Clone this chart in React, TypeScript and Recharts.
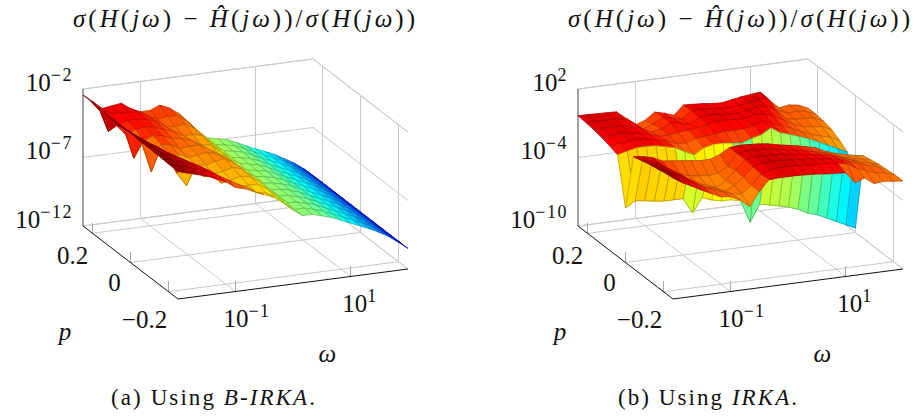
import React from "react";
import { ScatterChart, Scatter, XAxis, YAxis } from "recharts";

const FONT = '"Liberation Serif", serif';

// log10(omega) samples and p samples of the mesh
const omegaLog = [-2, -1.833, -1.667, -1.5, -1.333, -1.167, -1, -0.833, -0.667, -0.5, -0.333, -0.167, 0, 0.167, 0.333, 0.5, 0.667, 0.833, 1, 1.167, 1.333, 1.5, 1.667, 1.833, 2];
const pValues = [0.25, 0.208, 0.167, 0.125, 0.083, 0.042, 0, -0.042, -0.083, -0.125, -0.167, -0.208, -0.25];

// log10 of the relative error, one row per p value (a) B-IRKA
const errorA = [
  [-2.44, -3.0, -3.6, -3.5, -3.4, -3.9, -4.2, -4.2, -3.9, -4.2, -4.7, -5.4, -6.2, -6.75, -6.9, -7.05, -7.35, -7.7, -8.0, -8.3, -8.6, -9.0, -9.4, -9.9, -10.5],
  [-2.45, -3.3, -3.5, -3.6, -3.6, -3.7, -4.1, -4.4, -4.3, -4.3, -4.8, -5.5, -6.25, -6.8, -6.92, -7.07, -7.36, -7.7, -8.0, -8.3, -8.6, -9.0, -9.4, -9.9, -10.5],
  [-2.48, -4.3, -3.9, -3.7, -3.7, -3.8, -4.0, -4.5, -4.6, -4.5, -4.9, -5.6, -6.3, -6.8, -6.94, -7.09, -7.38, -7.72, -8.0, -8.3, -8.6, -9.0, -9.4, -9.9, -10.5],
  [-2.5, -3.4, -4.2, -3.9, -3.8, -3.9, -4.2, -4.4, -4.8, -4.8, -5.0, -5.7, -6.35, -6.85, -6.96, -7.11, -7.39, -7.73, -8.02, -8.32, -8.62, -9.0, -9.4, -9.9, -10.5],
  [-2.5, -3.2, -5.45, -4.3, -4.0, -4.1, -4.4, -4.5, -4.7, -5.1, -5.2, -5.8, -6.4, -6.85, -6.98, -7.13, -7.4, -7.74, -8.03, -8.33, -8.63, -9.01, -9.41, -9.91, -10.5],
  [-2.55, -3.1, -3.9, -6.1, -4.2, -4.3, -4.7, -4.6, -4.6, -5.0, -5.4, -5.8, -6.45, -6.9, -7.0, -7.15, -7.41, -7.75, -8.04, -8.34, -8.64, -9.01, -9.41, -9.91, -10.5],
  [-2.55, -3.0, -3.5, -4.2, -4.8, -4.6, -4.9, -4.8, -4.7, -4.9, -5.3, -5.9, -6.5, -6.9, -7.02, -7.18, -7.42, -7.76, -8.05, -8.35, -8.65, -9.02, -9.42, -9.92, -10.5],
  [-2.6, -2.9, -3.3, -3.9, -5.4, -6.4, -5.0, -5.1, -4.9, -4.8, -5.2, -5.9, -6.5, -6.95, -7.03, -7.2, -7.43, -7.76, -8.06, -8.36, -8.66, -9.03, -9.43, -9.93, -10.5],
  [-2.6, -2.9, -3.2, -3.6, -4.2, -4.8, -5.4, -5.3, -5.2, -5.0, -5.2, -5.8, -6.55, -7.0, -7.05, -7.22, -7.45, -7.77, -8.07, -8.37, -8.67, -9.03, -9.43, -9.93, -10.5],
  [-2.62, -2.85, -3.1, -3.4, -3.8, -4.3, -4.9, -5.5, -5.4, -5.2, -5.3, -5.8, -6.5, -7.0, -7.06, -7.24, -7.46, -7.78, -8.08, -8.38, -8.68, -9.04, -9.44, -9.94, -10.5],
  [-2.65, -2.85, -3.05, -3.3, -3.6, -4.0, -4.5, -4.9, -5.5, -5.4, -5.4, -5.9, -6.5, -7.05, -7.08, -7.26, -7.47, -7.79, -8.09, -8.39, -8.69, -9.04, -9.44, -9.94, -10.5],
  [-2.68, -2.85, -3.05, -3.3, -3.55, -3.9, -4.3, -4.7, -5.0, -5.5, -5.6, -6.0, -6.6, -7.1, -7.09, -7.28, -7.49, -7.8, -8.1, -8.4, -8.7, -9.05, -9.45, -9.95, -10.5],
  [-2.7, -2.9, -3.1, -3.3, -3.6, -3.9, -4.4, -4.6, -4.9, -5.2, -5.5, -6.0, -6.6, -7.1, -7.1, -7.3, -7.5, -7.8, -8.1, -8.4, -8.7, -9.05, -9.45, -9.95, -10.5],
];

// (b) IRKA, deep valley along p = 0
const errorB = [
  [-0.34, -0.35, -0.38, -0.4, -0.44, -1.1, -1.8, -1.5, -0.9, -1.1, -1.4, -0.6, -0.65, -0.7, -0.8, -0.85, -0.7, -0.55, -0.45, -0.35, -1.2, -1.95, -1.8, -1.93, -2.3],
  [-0.4, -0.4, -0.42, -0.45, -0.55, -1.0, -1.6, -1.3, -0.8, -1.0, -1.2, -0.6, -0.55, -0.6, -0.7, -0.75, -0.65, -0.5, -0.35, -0.4, -1.5, -1.9, -1.8, -1.95, -2.3],
  [-0.5, -0.5, -0.45, -0.5, -0.7, -0.95, -1.4, -1.2, -0.8, -0.9, -1.1, -0.65, -0.5, -0.55, -0.65, -0.7, -0.55, -0.4, -0.4, -0.9, -1.7, -1.9, -1.9, -2.0, -2.4],
  [-0.65, -0.6, -0.5, -0.55, -0.7, -0.9, -1.2, -1.2, -1.1, -1.0, -0.9, -0.7, -0.55, -0.55, -0.6, -0.6, -0.4, -0.45, -0.8, -1.2, -1.7, -2.0, -2.1, -2.2, -2.6],
  [-0.85, -0.75, -0.6, -0.6, -0.7, -0.9, -1.1, -1.4, -1.5, -1.2, -1.1, -1.0, -0.9, -0.95, -0.9, -0.7, -0.45, -0.8, -1.1, -1.4, -1.8, -2.15, -2.4, -2.6, -3.0],
  [-1.1, -0.9, -0.7, -0.7, -0.75, -0.95, -1.15, -1.6, -2.0, -1.5, -1.3, -1.3, -1.4, -1.5, -1.2, -1.0, -0.5, -1.04, -1.3, -1.6, -1.9, -2.3, -2.7, -3.1, -3.5],
  [-5.22, -4.7, -4.8, -4.95, -5.05, -5.05, -5.06, -6.42, -5.2, -5.5, -5.7, -5.7, -5.9, -7.9, -6.4, -6.6, -6.8, -7.0, -7.3, -7.75, -8.0, -8.4, -8.8, -9.2, -9.6],
  [-0.2, -0.3, -0.5, -0.9, -1.0, -1.1, -1.2, -1.3, -1.3, -1.0, -0.5, -0.4, -0.45, -0.5, -0.6, -0.8, -0.95, -1.1, -1.3, -1.5, -1.9, -2.2, -2.4, -2.6, -2.75],
  [0.0, -0.2, -0.5, -1.3, -1.6, -1.9, -2.0, -2.1, -2.0, -1.5, -0.5, -0.4, -0.4, -0.45, -0.55, -0.7, -0.85, -1.0, -1.2, -1.4, -1.7, -2.0, -2.2, -2.4, -2.6],
  [0.2, 0.0, -0.4, -0.9, -1.5, -2.0, -2.3, -2.6, -2.1, -1.3, -0.5, -0.35, -0.35, -0.4, -0.45, -0.55, -0.7, -0.8, -0.95, -1.1, -1.4, -1.7, -2.0, -2.2, -2.45],
  [0.35, 0.1, -0.3, -0.8, -1.3, -1.8, -2.0, -2.4, -2.0, -1.4, -0.6, -0.35, -0.3, -0.35, -0.4, -0.5, -0.55, -0.65, -0.75, -0.9, -1.2, -1.5, -1.8, -2.0, -2.4],
  [0.5, 0.2, -0.2, -0.7, -1.2, -1.5, -1.8, -2.1, -2.2, -1.6, -0.7, -0.4, -0.35, -0.35, -0.4, -0.45, -0.5, -0.55, -0.65, -0.8, -1.3, -1.6, -1.9, -2.0, -2.3],
  [0.6, 0.07, -0.35, -0.8, -1.2, -1.6, -1.7, -2.1, -2.8, -1.6, -0.66, -0.6, -0.6, -0.6, -0.65, -0.7, -0.8, -0.85, -0.92, -1.9, -1.6, -2.2, -2.1, -2.2, -2.3],
];

const pTicks = [0.2, 0, -0.2];
const pTickLabels = ["0.2", "0", "\u22120.2"];
const omegaTicks = [-1, 1];
const omegaTickExponents = ["\u22121", "1"];
const errorTicksA = [-2, -7, -12];
const errorTickExponentsA = ["\u22122", "\u22127", "\u221212"];
const errorTicksB = [2, -4, -10];
const errorTickExponentsB = ["2", "\u22124", "\u221210"];

// colour map stops, value -> position in jet
const colorStopsA = [[-11, 0], [-7.2, 0.5], [-5, 0.72], [-2.6, 1]];
const colorStopsB = [[-12, 0.15], [-9.6, 0.33], [-7.5, 0.52], [-5.2, 0.66], [-2.8, 0.74], [-1.6, 0.8], [-1.0, 0.87], [-0.4, 0.91], [0, 0.96], [0.6, 1]];

const PANEL_W = 420;
const PANEL_H = 418;
const OMEGA_MIN = -2;
const OMEGA_MAX = 2;
const P_MAX = 0.25;
const P_MIN = -0.25;

const clamp = (v: number) => Math.max(0, Math.min(1, v));

function jet(t: number, shade = 1) {
  const r = clamp(Math.min(4 * t - 1.5, -4 * t + 4.5));
  const g = clamp(Math.min(4 * t - 0.5, -4 * t + 3.5));
  const b = clamp(Math.min(4 * t + 0.5, -4 * t + 2.5));
  const c = (v: number) => Math.round(v * 255 * shade);
  return `rgb(${c(r)},${c(g)},${c(b)})`;
}

function lookup(stops: number[][], z: number) {
  if (z <= stops[0][0]) return stops[0][1];
  for (let i = 1; i < stops.length; i++) {
    if (z <= stops[i][0]) {
      const [z0, t0] = stops[i - 1];
      const [z1, t1] = stops[i];
      return t0 + ((z - z0) / (z1 - z0)) * (t1 - t0);
    }
  }
  return stops[stops.length - 1][1];
}

type PanelConfig = {
  grid: number[][];
  zMin: number;
  zMax: number;
  zTicks: number[];
  zExponents: string[];
  stops: number[][];
  useMin: boolean;
};

// oblique view of the axis box, gives the x/y the scatter series are plotted at
function project(w: number, p: number, z: number, cfg: PanelConfig) {
  const k = 137 / (cfg.zMax - cfg.zMin);
  return {
    x: 83 + (P_MAX - p) * 190 + (w - OMEGA_MIN) * 57.5,
    y: 226 + (P_MAX - p) * 146 - (w - OMEGA_MIN) * 7.5 - (z - cfg.zMin) * k,
  };
}

const noDot = () => <g />;

function SegmentLine(stroke: string, width: number) {
  return (props: any) => {
    const pts = props.points;
    const lines = [];
    for (let i = 0; i + 1 < pts.length; i += 2) {
      lines.push(<line key={i} x1={pts[i].x} y1={pts[i].y} x2={pts[i + 1].x} y2={pts[i + 1].y} stroke={stroke} strokeWidth={width} />);
    }
    return <g>{lines}</g>;
  };
}

function SurfaceLine(cfg: PanelConfig) {
  return (props: any) => {
    const pts = props.points;
    const nc = omegaLog.length;
    const cells = [];
    // back rows first, far columns first, so that near cells paint over
    for (let r = 0; r < pValues.length - 1; r++) {
      for (let c = nc - 2; c >= 0; c--) {
        const corners = [r * nc + c, r * nc + c + 1, (r + 1) * nc + c + 1, (r + 1) * nc + c];
        const zs = [cfg.grid[r][c], cfg.grid[r][c + 1], cfg.grid[r + 1][c + 1], cfg.grid[r + 1][c]];
        const meta = cfg.useMin ? Math.min(...zs) : zs.reduce((s, v) => s + v, 0) / 4;
        const t = lookup(cfg.stops, meta);
        cells.push(
          <polygon
            key={`${r}-${c}`}
            points={corners.map(i => `${pts[i].x},${pts[i].y}`).join(" ")}
            fill={jet(t)}
            stroke={jet(t, 0.72)}
            strokeWidth={0.75}
            strokeLinejoin="round"
          />
        );
      }
    }
    return <g>{cells}</g>;
  };
}

function TickText({ cx, cy, payload }: any) {
  return (
    <text
      x={cx + (payload.dx || 0)}
      y={cy + (payload.dy || 0)}
      textAnchor={payload.anchor || "middle"}
      fontFamily={FONT}
      fontSize={25}
      fontStyle={payload.italic ? "italic" : "normal"}
      fill="#111"
    >
      {payload.text}
      {payload.sup ? <tspan dy={-10} fontSize={18} letterSpacing={1.5}>{payload.sup}</tspan> : null}
    </text>
  );
}

function Panel({ cfg }: { cfg: PanelConfig }) {
  const P = (w: number, p: number, z: number) => project(w, p, z, cfg);
  const { zMin, zMax } = cfg;

  const meshData = cfg.grid.flatMap((row, r) => row.map((z, c) => P(omegaLog[c], pValues[r], z)));

  const grid: { x: number; y: number }[] = [];
  const seg = (a: { x: number; y: number }, b: { x: number; y: number }) => grid.push(a, b);
  cfg.zTicks.concat(zMax, zMin).forEach(z => {
    seg(P(OMEGA_MIN, P_MAX, z), P(OMEGA_MAX, P_MAX, z));
    seg(P(OMEGA_MAX, P_MAX, z), P(OMEGA_MAX, P_MIN, z));
  });
  omegaTicks.forEach(w => {
    seg(P(w, P_MAX, zMin), P(w, P_MAX, zMax));
    seg(P(w, P_MAX, zMin), P(w, P_MIN, zMin));
  });
  pTicks.forEach(p => {
    seg(P(OMEGA_MAX, p, zMin), P(OMEGA_MAX, p, zMax));
    seg(P(OMEGA_MIN, p, zMin), P(OMEGA_MAX, p, zMin));
  });

  // short tick marks stand up from the front edges of the floor
  const tickLen = (10.5 / 137) * (zMax - zMin);
  const tickMarks: { x: number; y: number }[] = [];
  pTicks.forEach(p => tickMarks.push(P(OMEGA_MIN, p, zMin), P(OMEGA_MIN, p, zMin + tickLen)));
  omegaTicks.forEach(w => tickMarks.push(P(w, P_MIN, zMin), P(w, P_MIN, zMin + tickLen)));

  const zAxis = [P(OMEGA_MIN, P_MAX, zMin), P(OMEGA_MIN, P_MAX, zMax)];
  const frontAxes = [
    P(OMEGA_MIN, P_MAX, zMin), P(OMEGA_MIN, P_MIN, zMin),
    P(OMEGA_MIN, P_MIN, zMin), P(OMEGA_MAX, P_MIN, zMin),
  ];

  const pOffsets = [[-20, 31], [-16, 28.5], [-24, 36]];
  const labels: any[] = [
    ...cfg.zTicks.map((z, i) => ({ ...P(OMEGA_MIN, P_MAX, z), text: "10", sup: cfg.zExponents[i], anchor: "end", dx: -10, dy: 1.5 })),
    ...pTicks.map((p, i) => ({ ...P(OMEGA_MIN, p, zMin), text: pTickLabels[i], dx: pOffsets[i][0], dy: pOffsets[i][1] })),
    ...omegaTicks.map((w, i) => ({ ...P(w, P_MIN, zMin), text: "10", sup: omegaTickExponents[i], dx: i === 0 ? 11.5 : 9.5, dy: 35.5 })),
    { ...P(OMEGA_MIN, P_MIN, zMin), text: "p", italic: true, dx: -113, dy: 41 },
    { ...P(1.5, P_MIN, zMin), text: "\u03c9", italic: true, dx: -52, dy: 89 },
  ];

  return (
    <ScatterChart width={PANEL_W} height={PANEL_H} margin={{ top: 0, right: 0, bottom: 0, left: 0 }}>
      <XAxis type="number" dataKey="x" domain={[0, PANEL_W]} hide />
      <YAxis type="number" dataKey="y" domain={[0, PANEL_H]} reversed hide />
      <Scatter data={grid} shape={noDot} line={SegmentLine("#c9c9c9", 1)} isAnimationActive={false} />
      <Scatter data={tickMarks} shape={noDot} line={SegmentLine("#a8a8a8", 1)} isAnimationActive={false} />
      <Scatter data={zAxis} shape={noDot} line={SegmentLine("#444", 1)} isAnimationActive={false} />
      <Scatter data={frontAxes} shape={noDot} line={SegmentLine("#111", 1)} isAnimationActive={false} />
      <Scatter data={meshData} shape={noDot} line={SurfaceLine(cfg)} isAnimationActive={false} />
      <Scatter data={labels} shape={TickText} isAnimationActive={false} />
    </ScatterChart>
  );
}

function Title({ x }: { x: number }) {
  const it = { fontStyle: "italic" as const };
  return (
    <text x={x} y={27} fontFamily={FONT} fontSize={25} fill="#111" textLength={342} lengthAdjust="spacing">
      <tspan {...it}>σ</tspan>(<tspan {...it}>H</tspan>(<tspan {...it}>jω</tspan>) − <tspan {...it}>{"H\u0302"}</tspan>(<tspan {...it}>jω</tspan>))/<tspan {...it}>σ</tspan>(<tspan {...it}>H</tspan>(<tspan {...it}>jω</tspan>))
    </text>
  );
}

const configA: PanelConfig = { grid: errorA, zMin: -12, zMax: -2, zTicks: errorTicksA, zExponents: errorTickExponentsA, stops: colorStopsA, useMin: false };
const configB: PanelConfig = { grid: errorB, zMin: -10, zMax: 2, zTicks: errorTicksB, zExponents: errorTickExponentsB, stops: colorStopsB, useMin: true };

export default function App() {
  return (
    <div style={{ position: "absolute", left: 0, top: 0, width: 915, height: 418, background: "#fff", overflow: "hidden" }}>
      <div style={{ position: "absolute", left: 0, top: 0 }}>
        <Panel cfg={configA} />
      </div>
      <div style={{ position: "absolute", left: 495, top: 0 }}>
        <Panel cfg={configB} />
      </div>
      <svg width={915} height={418} style={{ position: "absolute", left: 0, top: 0, pointerEvents: "none" }}>
        <Title x={73} />
        <Title x={568} />
        <text x={111} y={405} fontFamily={FONT} fontSize={23} fill="#111" textLength={204} lengthAdjust="spacing">
          (a) Using <tspan fontStyle="italic">B-IRKA</tspan>.
        </text>
        <text x={618} y={405} fontFamily={FONT} fontSize={23} fill="#111" textLength={179} lengthAdjust="spacing">
          (b) Using <tspan fontStyle="italic">IRKA</tspan>.
        </text>
      </svg>
    </div>
  );
}
